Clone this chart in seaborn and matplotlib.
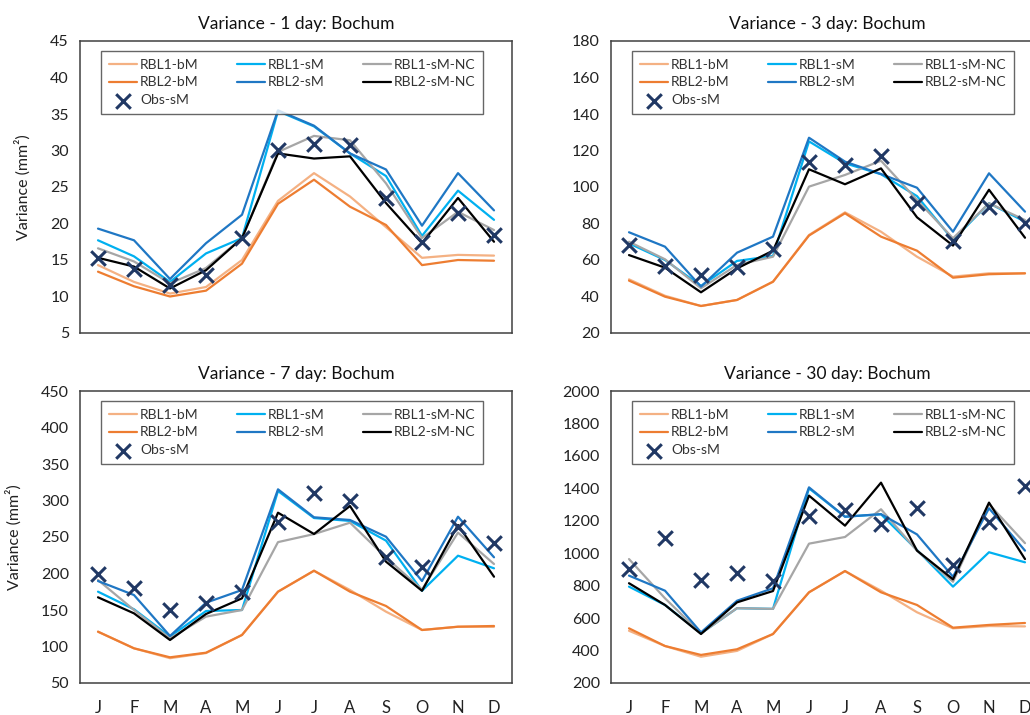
import matplotlib
matplotlib.use("Agg")
import matplotlib.pyplot as plt
import seaborn as sns
import numpy as np

months = ["J", "F", "M", "A", "M", "J", "J", "A", "S", "O", "N", "D"]
series_names = ["RBL1-bM", "RBL1-sM", "RBL1-sM-NC", "RBL2-bM", "RBL2-sM", "RBL2-sM-NC"]
obs_name = "Obs-sM"

# 1-day
d1_rbl1_bm = [14.3, 12.0, 10.4, 11.3, 15.0, 23.1, 26.9, 23.7, 19.5, 15.3, 15.7, 15.6]
d1_rbl1_sm = [17.7, 15.5, 12.0, 15.9, 18.0, 35.4, 33.3, 29.6, 26.5, 18.3, 24.5, 20.5]
d1_rbl1_nc = [16.6, 14.8, 11.8, 13.9, 18.0, 29.8, 32.0, 31.4, 25.5, 18.0, 21.6, 19.1]
d1_rbl2_bm = [13.4, 11.4, 10.0, 10.8, 14.5, 22.7, 26.0, 22.3, 19.8, 14.3, 15.0, 14.9]
d1_rbl2_sm = [19.3, 17.7, 12.4, 17.3, 21.2, 35.5, 33.4, 29.6, 27.4, 19.7, 26.9, 21.8]
d1_rbl2_nc = [15.3, 14.1, 11.1, 13.6, 18.0, 29.6, 28.9, 29.2, 22.8, 17.3, 23.5, 17.5]
d1_obs = [15.3, 13.7, 11.6, 12.9, 18.0, 30.0, 30.9, 30.8, 23.5, 17.4, 21.4, 18.4]

# 3-day
d3_rbl1_bm = [49.4, 40.4, 34.8, 38.1, 48.1, 73.7, 86.1, 75.5, 61.8, 50.9, 52.7, 52.7]
d3_rbl1_sm = [69.1, 60.0, 45.8, 59.5, 62.2, 125.0, 113.0, 107.0, 95.0, 71.0, 91.1, 81.0]
d3_rbl1_nc = [70.0, 60.4, 44.5, 57.3, 61.8, 100.2, 106.6, 114.4, 92.9, 71.9, 91.1, 81.9]
d3_rbl2_bm = [48.7, 39.9, 34.8, 38.1, 48.1, 73.4, 85.6, 72.8, 65.1, 50.3, 52.2, 52.7]
d3_rbl2_sm = [75.2, 67.3, 45.4, 64.0, 72.8, 127.0, 113.9, 107.1, 99.6, 75.5, 107.5, 86.5]
d3_rbl2_nc = [62.7, 55.8, 42.3, 55.4, 65.1, 109.7, 101.5, 110.2, 83.4, 67.9, 98.5, 72.2]
d3_obs = [68.2, 56.7, 51.8, 56.0, 66.0, 113.9, 112.1, 117.2, 91.4, 70.6, 89.2, 80.1]

# 7-day
d7_rbl1_bm = [120.3, 97.5, 84.0, 91.0, 115.8, 175.1, 203.8, 177.4, 147.7, 122.6, 127.1, 127.0]
d7_rbl1_sm = [175.1, 151.0, 113.6, 148.6, 150.0, 313.0, 276.0, 272.0, 245.0, 176.3, 224.4, 207.1]
d7_rbl1_nc = [191.1, 150.0, 111.2, 140.9, 150.0, 243.0, 254.0, 269.6, 222.0, 178.0, 256.0, 213.0]
d7_rbl2_bm = [120.3, 97.5, 85.2, 91.5, 115.8, 175.1, 203.8, 175.1, 155.5, 122.6, 127.1, 128.1]
d7_rbl2_sm = [189.7, 170.5, 114.4, 160.0, 177.4, 315.3, 277.0, 273.3, 250.4, 189.7, 277.8, 222.2]
d7_rbl2_nc = [167.4, 145.4, 108.9, 144.5, 166.0, 283.3, 254.1, 292.5, 216.2, 176.3, 266.4, 195.6]
d7_obs = [198.9, 179.7, 150.0, 160.0, 175.1, 270.9, 310.6, 299.7, 223.0, 208.5, 264.1, 241.4]

# 30-day
d30_rbl1_bm = [522, 428, 362, 398, 502, 759, 890, 769, 636, 537, 551, 549]
d30_rbl1_sm = [794, 681, 506, 661, 657, 1400, 1225, 1240, 1020, 794, 1006, 944]
d30_rbl1_nc = [964, 722, 506, 661, 657, 1059, 1100, 1271, 1016, 824, 1303, 1062]
d30_rbl2_bm = [537, 428, 373, 408, 502, 759, 890, 759, 681, 541, 558, 570]
d30_rbl2_sm = [862, 769, 512, 707, 784, 1406, 1225, 1241, 1116, 855, 1277, 1016]
d30_rbl2_nc = [815, 681, 502, 697, 767, 1355, 1170, 1435, 1016, 839, 1312, 964]
d30_obs = [901, 1092, 833, 876, 829, 1229, 1266, 1181, 1277, 925, 1194, 1414]

titles = ["Variance - 1 day: Bochum", "Variance - 3 day: Bochum",
          "Variance - 7 day: Bochum", "Variance - 30 day: Bochum"]
ylims = [(5, 45, 5), (20, 180, 20), (50, 450, 50), (200, 2000, 200)]
panels = [
    [d1_rbl1_bm, d1_rbl1_sm, d1_rbl1_nc, d1_rbl2_bm, d1_rbl2_sm, d1_rbl2_nc, d1_obs],
    [d3_rbl1_bm, d3_rbl1_sm, d3_rbl1_nc, d3_rbl2_bm, d3_rbl2_sm, d3_rbl2_nc, d3_obs],
    [d7_rbl1_bm, d7_rbl1_sm, d7_rbl1_nc, d7_rbl2_bm, d7_rbl2_sm, d7_rbl2_nc, d7_obs],
    [d30_rbl1_bm, d30_rbl1_sm, d30_rbl1_nc, d30_rbl2_bm, d30_rbl2_sm, d30_rbl2_nc, d30_obs],
]

colors = ["#F4B183", "#00B0F0", "#A6A6A6", "#ED7D31", "#1F77C4", "#000000"]
obs_color = "#203864"

sns.set_theme(style="white")
plt.rcParams["font.family"] = ["Lato", "DejaVu Sans"]

W, H = 1030, 715
fig = plt.figure(figsize=(W / 100, H / 100), dpi=100)

# axes boxes in pixels (left, top, right, bottom)
boxes = [(80, 41, 512, 333), (611, 41, 1043, 333),
         (80, 391, 512, 683), (611, 391, 1043, 683)]

x = np.arange(len(months))
for i, (l, t, r, b) in enumerate(boxes):
    ax = fig.add_axes([l / W, (H - b) / H, (r - l) / W, (b - t) / H])
    vals = panels[i]
    for name, col, v in zip(series_names, colors, vals[:6]):
        sns.lineplot(x=x, y=v, ax=ax, color=col, linewidth=1.6, label=name)
    sns.scatterplot(x=x, y=vals[6], ax=ax, marker="x", color=obs_color, s=110,
                    linewidth=2.2, label=obs_name, zorder=5)
    ymin, ymax, step = ylims[i]
    ax.set_ylim(ymin, ymax)
    ax.set_yticks(np.arange(ymin, ymax + step / 2, step))
    ax.set_xlim(-0.5, 11.5)
    ax.set_xticks(np.arange(0.5, 11, 1.0))
    ax.set_xticks(x, minor=True)
    ax.tick_params(axis="x", which="major", direction="in", length=5, width=1,
                   color="#404040", labelbottom=False)
    if i >= 2:
        ax.set_xticklabels([], minor=False)
        ax.set_xticklabels(months, minor=True)
        ax.tick_params(axis="x", which="minor", length=0, labelsize=12, pad=12,
                       labelcolor="#222222")
    else:
        ax.tick_params(axis="x", which="minor", length=0, labelbottom=False)
    ax.tick_params(axis="y", direction="in", length=5, width=1, color="#404040",
                   labelsize=11.5, pad=8, labelcolor="#222222")
    for s in ax.spines.values():
        s.set_color("#404040")
        s.set_linewidth(1.1)
    ax.set_title(titles[i], fontsize=12.5, pad=9, color="#111111")
    ax.set_xlabel("")
    if i in (0, 2):
        ax.set_ylabel("Variance (mm²)", fontsize=11.5, labelpad=14, color="#222222")
    else:
        ax.set_ylabel("")
    h, lab = ax.get_legend_handles_labels()
    order = [0, 3, 6, 1, 4, 2, 5]
    leg = ax.legend([h[k] for k in order], [lab[k] for k in order], ncol=3,
                    loc="upper left", bbox_to_anchor=(21 / 432, 1 - 10 / 292),
                    borderaxespad=0.0,
                    frameon=True, fancybox=False, edgecolor="#404040",
                    fontsize=10, handlelength=2.05, handletextpad=0.2,
                    columnspacing=2.75, borderpad=0.55, labelspacing=0.42)
    leg.get_frame().set_linewidth(1.0)
    for txt in leg.get_texts():
        txt.set_color("#333333")

fig.savefig("out.png", dpi=100)
